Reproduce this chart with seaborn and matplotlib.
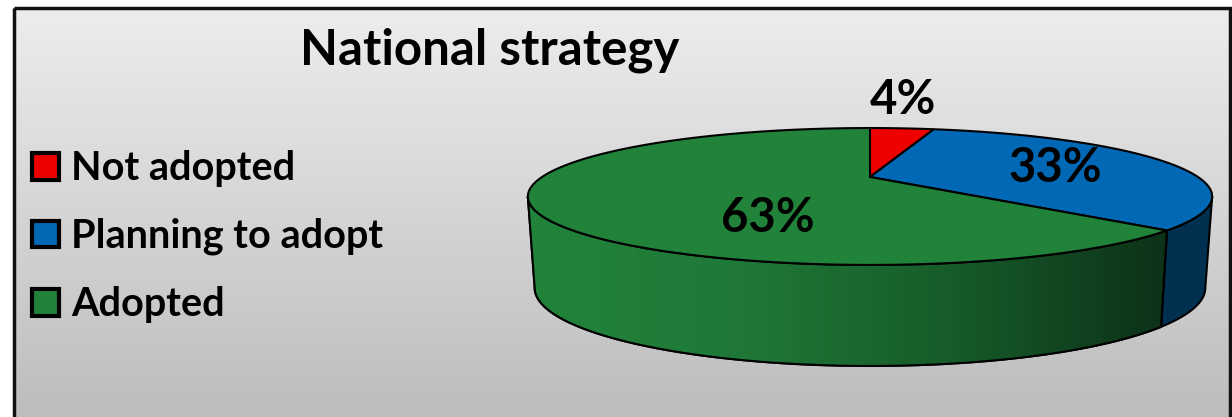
import numpy as np
import matplotlib.pyplot as plt
import matplotlib.transforms as mtransforms
from matplotlib.colors import LinearSegmentedColormap
from matplotlib.path import Path
from matplotlib.patches import Patch, Polygon, Rectangle
import seaborn as sns

sns.set_style('white')
plt.rcParams['font.family'] = ['Lato', 'DejaVu Sans']
plt.rcParams['text.color'] = 'black'

# data
labels = ['Not adopted', 'Planning to adopt', 'Adopted']
values = [4, 33, 63]
colors = ['#ee0000', '#0068b4', '#21823a']
side_colors = ['#8a0000', '#00304f', '#21823a']
title = 'National strategy'

W, H = 1232, 417

# tilted-disc look: centre, half axes (px) and perspective factor
CX, CY, A, B, K = 870, 177, 328, 62.9, 0.2846


class Tilt(mtransforms.Transform):
    input_dims = output_dims = 2

    def transform_non_affine(self, xy):
        xy = np.asarray(xy, float)
        w = 1 + K * xy[:, 1]
        return np.column_stack([CX + A * xy[:, 0] / w, CY - B * xy[:, 1] / w])

    def transform_path_non_affine(self, path):
        up = mtransforms.Affine2D().scale(1000)
        verts = np.vstack(path.to_polygons(transform=up)) / 1000
        return Path(self.transform_non_affine(verts), closed=True)


def rim(t, bottom=False):
    x, y = np.cos(t), np.sin(t)
    w = 1 + K * y
    px = CX + A * x / w
    py = CY - B * y / w
    if bottom:
        px = CX + 0.98 * A * x / w
        py = py + 101 * ((1 - K) / w) ** 0.4
    return np.column_stack([px, py])


fig = plt.figure(figsize=(W / 100, H / 100), dpi=100)
ax = fig.add_axes([0, 0, 1, 1])

wedges, _ = ax.pie(values, colors=colors, startangle=90, counterclock=False,
                   wedgeprops=dict(edgecolor='black', linewidth=1.5))
tilt = Tilt()
for w in wedges:
    w.set_transform(tilt + ax.transData)
    w.set_zorder(5)

ax.set_aspect('auto')
ax.set_xlim(0, W)
ax.set_ylim(H, 0)
ax.axis('off')

# background gradient + frame
bg_cmap = LinearSegmentedColormap.from_list('bg', ['#ededed', '#bdbdbd'])
ax.imshow(np.linspace(0, 1, 256).reshape(-1, 1), cmap=bg_cmap, aspect='auto',
          extent=[14, 1230, H, 8], interpolation='bilinear', zorder=0)
ax.add_patch(Rectangle((14, 8), 1216, H + 10, fill=False, edgecolor='#111111',
                       lw=2.5, zorder=1))

# side of the disc (front half only)
fr = np.cumsum([0] + values) / sum(values)
angles = 90 - 360 * fr
edge_lo = -180 + np.degrees(np.arcsin(K))
edge_hi = -np.degrees(np.arcsin(K))

side_cmap = LinearSegmentedColormap.from_list(
    'side', ['#22843b', '#1f7837', '#175b2a', '#0c3117'])
for i in range(len(values)):
    t0, t1 = angles[i + 1], angles[i]
    lo, hi = max(t0, edge_lo), min(t1, edge_hi)
    if lo >= hi:
        continue
    t = np.radians(np.linspace(lo, hi, 200))
    pts = np.vstack([rim(t), rim(t[::-1], bottom=True)])
    poly = Polygon(pts, closed=True, facecolor=side_colors[i],
                   edgecolor='black', linewidth=1.5, zorder=3)
    ax.add_patch(poly)
    if labels[i] == 'Adopted':
        img = ax.imshow(np.linspace(0, 1, 256).reshape(1, -1), cmap=side_cmap,
                        extent=[pts[:, 0].min(), pts[:, 0].max(), pts[:, 1].max(), pts[:, 1].min()],
                        aspect='auto', zorder=3.5, interpolation='bilinear')
        img.set_clip_path(poly)
        ax.add_patch(Polygon(pts, closed=True, fill=False, edgecolor='black',
                             linewidth=1.5, zorder=4))

# percentage labels
pct_pos = [(903, 100), (1055, 168), (768, 218)]
for v, (px, py) in zip(values, pct_pos):
    ax.text(px, py, f'{v}%', ha='center', va='center', fontsize=34,
            fontweight='bold', color='black', zorder=6)

ax.text(490, 50, title, ha='center', va='center', fontsize=35.5,
        fontweight='bold', color='black', zorder=6)

handles = [Patch(facecolor=c, edgecolor='black', linewidth=3) for c in colors]
fig.legend(handles, labels, loc='upper left', bbox_to_anchor=(32 / W, 1 - 150 / H),
           frameon=False, handlelength=0.67, handleheight=0.67, handletextpad=0.31,
           labelspacing=0.78, borderpad=0, borderaxespad=0, labelcolor='black',
           prop={'weight': 'bold', 'size': 28.5})

fig.savefig('out.png', dpi=100)
